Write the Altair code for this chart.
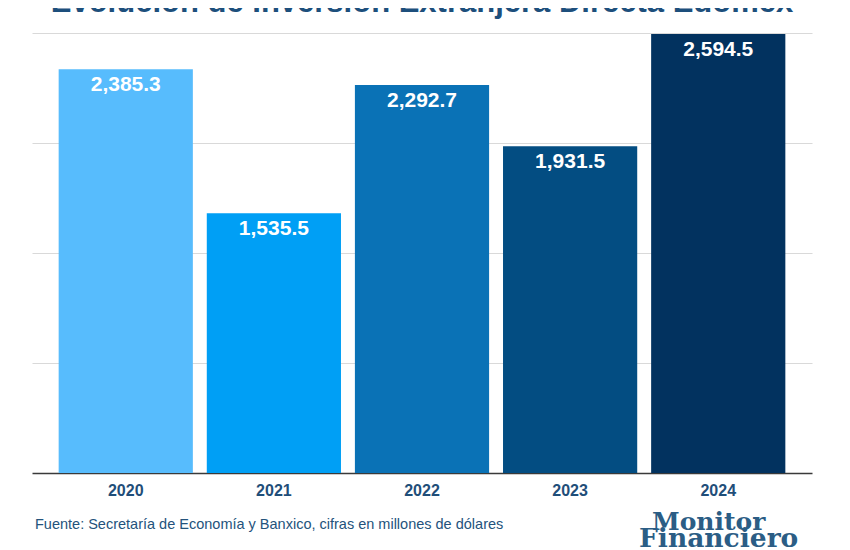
import altair as alt
import pandas as pd

years = ["2020", "2021", "2022", "2023", "2024"]
values = [2385.3, 1535.5, 2292.7, 1931.5, 2594.5]
labels = ["2,385.3", "1,535.5", "2,292.7", "1,931.5", "2,594.5"]
colors = ["#57bcfd", "#009ff5", "#0a72b6", "#034d82", "#02325f"]
grid_ticks = [650, 1300, 1950, 2600]

title_text = "Evolución de Inversión Extranjera Directa Edomex"
source_text = "Fuente: Secretaría de Economía y Banxico, cifras en millones de dólares"
logo_line1 = "Monitor"
logo_line2 = "Financiero"

df = pd.DataFrame({"year": years, "value": values, "label": labels})

W, H = 780, 440
x_enc = alt.X("year:N", sort=years,
              scale=alt.Scale(paddingInner=0.094, paddingOuter=0.18),
              axis=alt.Axis(title=None, labelAngle=0, ticks=False, domain=True,
                            grid=False,
                            domainColor="#3a3a3a", domainWidth=1.5,
                            labelFont="Liberation Sans", labelFontSize=16,
                            labelFontWeight="bold", labelColor="#1f4e79",
                            labelPadding=9))
y_scale = alt.Scale(domain=[0, 2600], nice=False)

bars = alt.Chart(df).mark_bar().encode(
    x=x_enc,
    y=alt.Y("value:Q", scale=y_scale,
            axis=alt.Axis(title=None, labels=False, ticks=False, domain=False,
                          values=grid_ticks, grid=True, gridColor="#d9d9d9",
                          gridWidth=1)),
    color=alt.Color("year:N", scale=alt.Scale(domain=years, range=colors), legend=None),
)

text = alt.Chart(df).mark_text(
    font="Liberation Sans", fontSize=21, fontWeight="bold", color="white",
    baseline="alphabetic", dy=22
).encode(x=alt.X("year:N", sort=years), y=alt.Y("value:Q", scale=y_scale), text="label:N")

title = alt.Chart(pd.DataFrame({"t": [title_text]})).mark_text(
    font="Liberation Sans", fontSize=31, fontWeight="bold", color="#1d4f7c",
    baseline="alphabetic", align="center"
).encode(x=alt.value(390), y=alt.value(-21), text="t:N")

source = alt.Chart(pd.DataFrame({"t": [source_text]})).mark_text(
    font="Liberation Sans", fontSize=14.5, color="#24537c",
    baseline="middle", align="left"
).encode(x=alt.value(3), y=alt.value(H + 52), text="t:N")

logo1 = alt.Chart(pd.DataFrame({"t": [logo_line1]})).mark_text(
    font="DejaVu Serif", fontSize=25, fontWeight="bold", color="#2b5d85",
    baseline="alphabetic", align="left"
).encode(x=alt.value(620), y=alt.value(H + 57), text="t:N")

logo2 = alt.Chart(pd.DataFrame({"t": [logo_line2]})).mark_text(
    font="DejaVu Serif", fontSize=26.5, fontWeight="bold", color="#2b5d85",
    baseline="alphabetic", align="left"
).encode(x=alt.value(607), y=alt.value(H + 74), text="t:N")

chart = alt.layer(bars, text, title, source, logo1, logo2).properties(
    width=W, height=H,
    background="white",
    autosize=alt.AutoSizeParams(type="none"),
    padding={"left": 24, "top": 25, "right": 30, "bottom": 77},
).configure_view(strokeWidth=0, stroke=None)

chart.save("out.html", embed_options={"renderer": "svg", "actions": False})
